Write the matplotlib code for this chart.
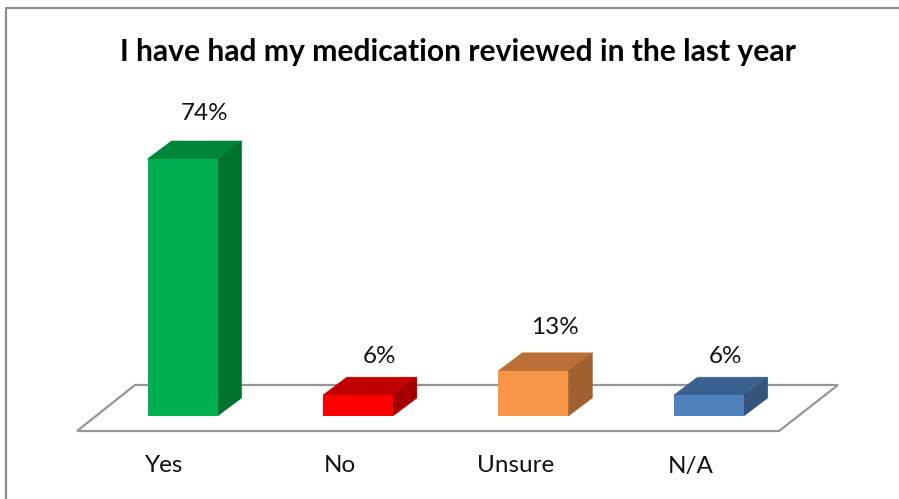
import matplotlib
matplotlib.use("Agg")
import matplotlib.pyplot as plt
from matplotlib.patches import Polygon

categories = ["Yes", "No", "Unsure", "N/A"]
values = [74, 6, 13, 6]
labels = ["74%", "6%", "13%", "6%"]
front = ["#00B050", "#FF0000", "#F79646", "#4F81BD"]
top = ["#00853C", "#C00000", "#B96F35", "#3B618E"]
side = ["#00722F", "#A50000", "#A06030", "#33547B"]
title = "I have had my medication reviewed in the last year"

W, H = 899, 499
PX_X = 175.4      # pixels per category
PX_Y = 3.473      # pixels per percent
X0, Y0 = 182.5, 416.0   # pixel position of category 0, value 0
BW = 70 / PX_X
DX, DY = 24 / PX_X, 18 / PX_Y
# label placement relative to each bar, in pixels
LABEL_DX = [22, 22, 22, 17]
LABEL_GAP = [27, 21, 25, 21]

plt.rcParams["font.family"] = ["Lato", "DejaVu Sans"]
fig = plt.figure(figsize=(W / 100, H / 100), dpi=100)
ax = fig.add_axes([0, 0, 1, 1])
ax.set_xlim(-X0 / PX_X, (W - X0) / PX_X)
ax.set_ylim(-(H - Y0) / PX_Y, Y0 / PX_Y)
ax.axis("off")


def fx(px):
    return (px - X0) / PX_X


def fy(py):
    return (Y0 - py) / PX_Y


# chart frame: left and top edges only
ax.plot([fx(6), fx(6), fx(W)], [fy(H), fy(8), fy(8)],
        color="#8C8C8C", lw=1.6, zorder=1, clip_on=False)

# floor
floor = [(fx(77), fy(431)), (fx(135), fy(385)), (fx(838), fy(385)), (fx(779), fy(431))]
ax.add_patch(Polygon(floor, closed=True, facecolor="white", edgecolor="#969696", lw=1.6, zorder=2))

# bars
xs = list(range(len(categories)))
ax.bar(xs, values, width=BW, color=front, zorder=4)
for x, v, c_top, c_side in zip(xs, values, top, side):
    l, r = x - BW / 2, x + BW / 2
    ax.add_patch(Polygon([(l, v), (l + DX, v + DY), (r + DX, v + DY), (r, v)],
                         closed=True, facecolor=c_top, edgecolor=c_top, lw=0.4, zorder=3))
    ax.add_patch(Polygon([(r, 0), (r + DX, DY), (r + DX, v + DY), (r, v)],
                         closed=True, facecolor=c_side, edgecolor=c_side, lw=0.4, zorder=3))

# value labels
for x, v, s, dx, gap in zip(xs, values, labels, LABEL_DX, LABEL_GAP):
    ax.text(x + dx / PX_X, v + DY + gap / PX_Y, s, ha="center", va="center",
            fontsize=17.5, color="#111111", zorder=5)

# category labels
for x, s in zip(xs, categories):
    ax.text(x - 18 / PX_X, fy(466), s, ha="center", va="center", fontsize=17.5, color="#111111", zorder=5)

ax.text(fx(458), fy(52), title, ha="center", va="center", fontsize=21.6, fontweight="bold",
        color="black", zorder=5)

fig.savefig("out.png", dpi=100, facecolor="white")
